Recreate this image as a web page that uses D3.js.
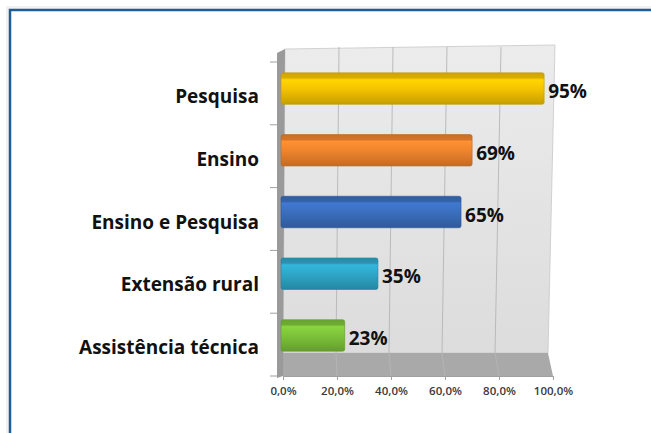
<!DOCTYPE html>
<html><head><meta charset="utf-8">
<script src="https://cdn.jsdelivr.net/npm/d3@7"></script>
<style>body{margin:0;background:#fff}svg{display:block}</style>
</head><body>
<svg id="c" width="651" height="433"></svg>
<script>
const categories = ["Pesquisa","Ensino","Ensino e Pesquisa","Extensão rural","Assistência técnica"];
const values = [0.95,0.69,0.65,0.35,0.23];
const valueLabels = ["95%","69%","65%","35%","23%"];
const tickValues = [0,0.2,0.4,0.6,0.8,1.0];
const barColors = ["#f6c400","#f0852e","#3b6fbf","#2ea7c9","#7dc33a"];

const svg = d3.select("#c");
const defs = svg.append("defs");

// frame
svg.append("rect").attr("x",6).attr("y",6).attr("width",660).attr("height",440).attr("fill","#e8e8e8").attr("opacity",0.6);
svg.append("rect").attr("x",10).attr("y",10).attr("width",660).attr("height",440).attr("fill","#fff").attr("stroke","#1f5d96").attr("stroke-width",2.5);

// scales: front axis, back-wall top, back-wall bottom, bars (mid depth)
const xFront = d3.scaleLinear().domain([0,1]).range([283,553]);
const xBackTop = d3.scaleLinear().domain([0,1]).range([285,555]);
const xBackBot = d3.scaleLinear().domain([0,1]).range([283,548]);
const xBar = d3.scaleLinear().domain([0,1]).range([281,558]);
const yTop = 47, yFloorBack = 353, yFront = 376;
const yAxis = d3.scaleBand().domain(categories).range([62,376]);
const yBars = d3.scaleBand().domain(categories).range([58,366]).paddingInner(0.49).paddingOuter(0.24);

// back wall gradient
const wg = defs.append("linearGradient").attr("id","wall").attr("x1",0).attr("y1",0).attr("x2",0).attr("y2",1);
wg.append("stop").attr("offset","0%").attr("stop-color","#ececec");
wg.append("stop").attr("offset","100%").attr("stop-color","#dcdcdc");

svg.append("path").attr("d",`M${xBackTop(0)},${yTop+2}L${xBackTop(1)},${yTop-2}L${xBackBot(1)},${yFloorBack}L${xBackBot(0)},${yFloorBack}Z`)
  .attr("fill","url(#wall)").attr("stroke","#c8c8c8").attr("stroke-width",0.8);
// floor
svg.append("path").attr("d",`M${xBackBot(0)},${yFloorBack}L${xBackBot(1)},${yFloorBack}L${xFront(1)},${yFront}L${xFront(0)},${yFront}Z`)
  .attr("fill","#a9a9a9");
// left side wall
svg.append("path").attr("d",`M277,${yTop+6}L${xBackTop(0)},${yTop+2}L${xFront(0)},${yFront}L277,${yFront+2}Z`)
  .attr("fill","#9a9a9a");

// gridlines
svg.append("g").selectAll("path").data(tickValues.slice(1,5)).join("path")
  .attr("d",d=>`M${xBackTop(d)},${yTop}L${xBackBot(d)},${yFloorBack}L${xFront(d)},${yFront}`)
  .attr("fill","none").attr("stroke","#b5b5b5").attr("stroke-width",0.9);

// left axis ticks
svg.append("g").selectAll("line").data(categories.concat(["_end"])).join("line")
  .attr("x1",270).attr("x2",277)
  .attr("y1",(d,i)=> i<categories.length ? yAxis(d) : yAxis.range()[1])
  .attr("y2",(d,i)=> i<categories.length ? yAxis(d) : yAxis.range()[1])
  .attr("stroke","#a0a0a0");

// bottom axis
const xAxis = d3.axisBottom(xFront).tickValues(tickValues).tickSize(4)
  .tickFormat(d=>d3.format(".1f")(d*100).replace(".",",")+"%");
const gx = svg.append("g").attr("transform",`translate(0,${yFront})`).call(xAxis);
gx.select(".domain").attr("stroke","#a0a0a0");
gx.selectAll(".tick line").attr("stroke","#a0a0a0");
gx.selectAll("text").attr("font-family","'Open Sans',sans-serif").attr("font-size",11.5).attr("font-weight",600).attr("fill","#3a3a3a").attr("dy","1.05em");

// bars
barColors.forEach((c,i)=>{
  const g = defs.append("linearGradient").attr("id","bg"+i).attr("x1",0).attr("y1",0).attr("x2",0).attr("y2",1);
  const col = d3.color(c);
  g.append("stop").attr("offset","0%").attr("stop-color",col.darker(0.5));
  g.append("stop").attr("offset","16%").attr("stop-color",col.darker(0.35));
  g.append("stop").attr("offset","22%").attr("stop-color",col.brighter(0.25));
  g.append("stop").attr("offset","50%").attr("stop-color",col);
  g.append("stop").attr("offset","100%").attr("stop-color",col.darker(0.6));
});
const bars = svg.append("g").selectAll("g").data(categories).join("g");
bars.append("rect")
  .attr("x",xBar(0)).attr("y",d=>yBars(d))
  .attr("width",(d,i)=>xBar(values[i])-xBar(0)).attr("height",yBars.bandwidth())
  .attr("rx",2)
  .attr("fill",(d,i)=>`url(#bg${i})`).attr("stroke",(d,i)=>d3.color(barColors[i]).darker(0.7)).attr("stroke-width",0.6);

// value labels
bars.append("text")
  .attr("x",(d,i)=>xBar(values[i])+4).attr("y",d=>yBars(d)+yBars.bandwidth()/2+3)
  .attr("dy","0.35em").text((d,i)=>valueLabels[i])
  .attr("font-family","'Open Sans',sans-serif").attr("font-weight",700).attr("font-size",19).attr("fill","#111");

// category labels
svg.append("g").selectAll("text").data(categories).join("text")
  .attr("x",259).attr("y",d=>yAxis(d)+yAxis.bandwidth()/2+3)
  .attr("dy","0.35em").attr("text-anchor","end").text(d=>d)
  .attr("font-family","'Open Sans',sans-serif").attr("font-weight",700).attr("font-size",19).attr("fill","#111");
</script>
</body></html>
